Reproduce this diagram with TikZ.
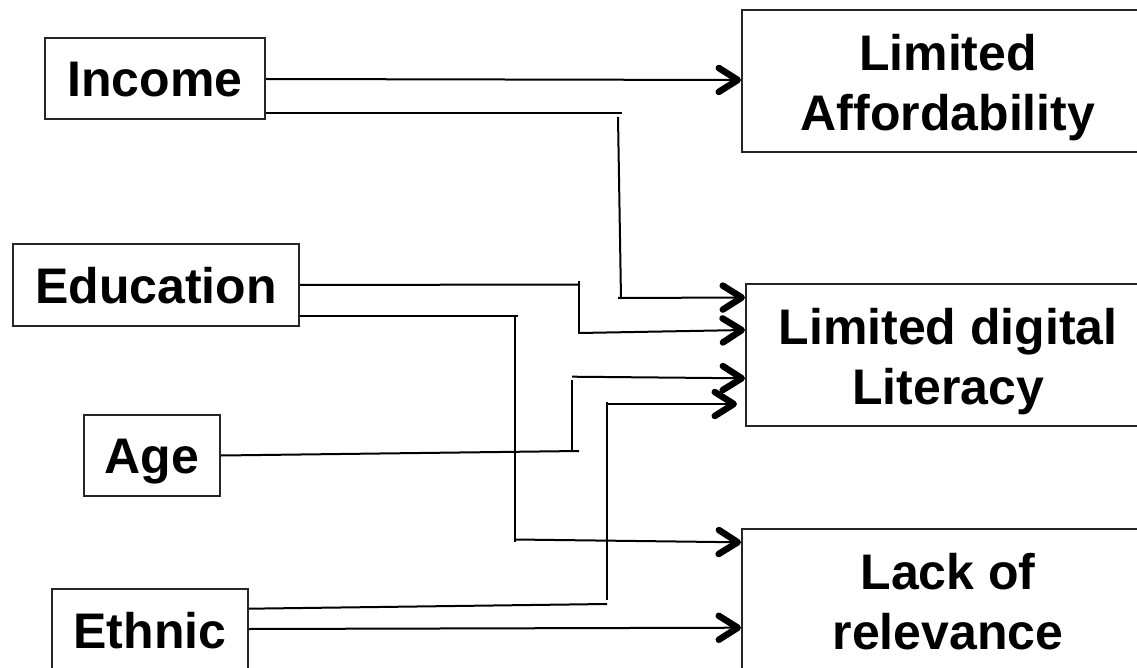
\documentclass[tikz,border=0pt]{standalone}
\usepackage{fontspec}
\setmainfont{Liberation Sans}
\usetikzlibrary{arrows.meta}
% two-line label with fixed top and bottom struts, so every box sets its text alike
\newcommand\boxtext[2]{\rule{0pt}{50pt}#1\\#2\rule[-10.5pt]{0pt}{10.5pt}}

\begin{document}
\begin{tikzpicture}[x=1pt,y=-1pt,
  factor/.style={draw=black!85, line width=2pt, inner sep=0pt,
    font=\fontsize{50}{60}\selectfont\bfseries, text height=36pt, text depth=0pt},
  barrier/.style={draw=black!85, line width=2pt, inner sep=0pt, align=center,
    minimum width=412pt, minimum height=142pt,
    font=\fontsize{50}{60}\selectfont\bfseries},
  link/.style={line width=2pt},
  arrowlink/.style={link, -{Straight Barb[length=19pt,width=24pt,line width=6.5pt 0,round]}}
]
\useasboundingbox (0,0) rectangle (1137,668);
\clip (0,0) rectangle (1137,668);
\fill[white] (0,0) rectangle (1137,668);

% factors on the left
\node[factor, minimum width=220pt, minimum height=81pt] (inc) at (155,78.5) {Income};
\node[factor, minimum width=286pt, minimum height=82pt] (edu) at (156,285) {Education};
\node[factor, minimum width=136pt, minimum height=81pt] (age) at (152,455.5) {Age};
\node[factor, minimum width=196pt, minimum height=82pt] (eth) at (150,630) {Ethnic};

% barriers on the right
\node[barrier] (aff) at (948,81) {\boxtext{Limited}{Affordability}};
\node[barrier, minimum width=404pt] (dig) at (948,355) {\boxtext{Limited digital}{Literacy}};
\node[barrier] (lack) at (948,600) {\boxtext{Lack of}{relevance}};

% Income
\draw[arrowlink] (inc.east |- 0,79) -- (aff.west |- 0,80);
\draw[link] (inc.east |- 0,113) -- (622,113);
\draw[link] (618,117) -- (621,299);
\draw[arrowlink] (618,298) -- (dig.west |- 0,297.5);

% Education
\draw[link] (edu.east |- 0,285) -- (580,284.5);
\draw[link] (579,280.5) -- (579,333.5);
\draw[arrowlink] (579,333) -- (dig.west |- 0,330);
\draw[link] (edu.east |- 0,316) -- (518,316);
\draw[link] (515,316) -- (515,542);
\draw[arrowlink] (515,539.5) -- (lack.west |- 0,542.3);

% Age
\draw[link] (age.east |- 0,455.5) -- (579,451);
\draw[link] (572,451.5) -- (572,380);
\draw[arrowlink] (572,376.7) -- (dig.west |- 0,378.3);

% Ethnic
\draw[link] (eth.east |- 0,608.7) -- (607,604);
\draw[link] (607,600) -- (607,401.7);
\draw[arrowlink] (607,404) -- ([xshift=-8pt]dig.west |- 0,404);
\draw[arrowlink] (eth.east |- 0,629) -- (lack.west |- 0,627.7);
\end{tikzpicture}
\end{document}
